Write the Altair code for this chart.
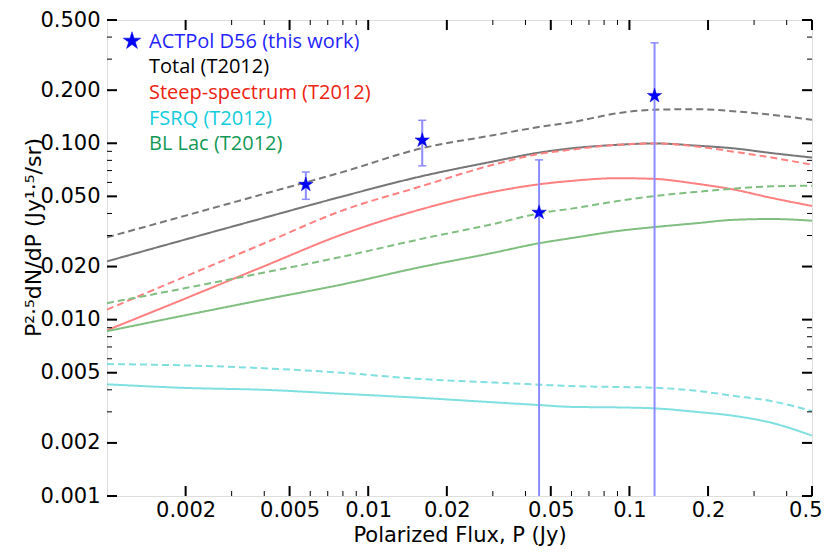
import altair as alt
import pandas as pd

# ---------------- data ----------------
x_model = [0.001, 0.002, 0.004, 0.0079, 0.016, 0.03, 0.045, 0.06, 0.09, 0.125, 0.18, 0.25, 0.35, 0.5]

total_dash = [0.0293, 0.0389, 0.0517, 0.0684, 0.0936, 0.111, 0.1237, 0.1315, 0.148, 0.155, 0.156, 0.152, 0.145, 0.136]
total_solid = [0.0214, 0.0285, 0.0378, 0.0498, 0.065, 0.0788, 0.0885, 0.0936, 0.098, 0.0998, 0.097, 0.0936, 0.088, 0.083]
steep_dash = [0.0114, 0.0176, 0.0271, 0.0414, 0.0571, 0.0755, 0.087, 0.092, 0.098, 0.0998, 0.096, 0.0896, 0.083, 0.0755]
steep_solid = [0.0087, 0.0132, 0.0201, 0.0303, 0.0423, 0.0530, 0.0585, 0.0612, 0.0634, 0.0628, 0.059, 0.0547, 0.049, 0.0441]
bllac_dash = [0.0124, 0.0151, 0.0185, 0.0227, 0.0287, 0.0348, 0.0400, 0.0426, 0.047, 0.0502, 0.053, 0.0553, 0.057, 0.0575]
bllac_solid = [0.0086, 0.0106, 0.0130, 0.0158, 0.0199, 0.0239, 0.0271, 0.029, 0.0318, 0.0335, 0.0352, 0.0368, 0.0372, 0.0364]
fsrq_dash = [0.0056, 0.0055, 0.0053, 0.0050, 0.0046, 0.0044, 0.00428, 0.0042, 0.00415, 0.00411, 0.00395, 0.0037, 0.00345, 0.00303]
fsrq_solid = [0.0043, 0.0041, 0.0040, 0.0038, 0.0036, 0.0034, 0.00328, 0.0032, 0.00318, 0.00314, 0.0030, 0.00285, 0.0026, 0.0022]

act_P = [0.00577, 0.0161, 0.0451, 0.1248]
act_S = [0.0583, 0.104, 0.0405, 0.186]
act_hi = [0.0687, 0.135, 0.0805, 0.371]
act_lo = [0.0481, 0.0745, 0.0001, 0.0001]

x_major = [0.002, 0.005, 0.01, 0.02, 0.05, 0.1, 0.2, 0.5]
x_minor = [0.003, 0.004, 0.006, 0.007, 0.008, 0.009, 0.03, 0.04, 0.06, 0.07, 0.08, 0.09, 0.3, 0.4]
y_major = [0.001, 0.002, 0.005, 0.01, 0.02, 0.05, 0.1, 0.2, 0.5]
y_minor = [0.003, 0.004, 0.006, 0.007, 0.008, 0.009, 0.03, 0.04, 0.06, 0.07, 0.08, 0.09, 0.3, 0.4]

legend_labels = ["ACTPol D56 (this work)", "Total (T2012)", "Steep-spectrum (T2012)", "FSRQ (T2012)", "BL Lac (T2012)"]
legend_colors = ["#1f1fff", "#000000", "#ee2211", "#11ccdd", "#119955"]

series_names = ["Total", "Steep", "FSRQ", "BLLac"]
series_colors = ["#777777", "#ff8080", "#80dfdf", "#80bf80"]

# ---------------- tables ----------------
rows = []
for name, style, vals in [
    ("Total", "dashed", total_dash), ("Total", "solid", total_solid),
    ("Steep", "dashed", steep_dash), ("Steep", "solid", steep_solid),
    ("BLLac", "dashed", bllac_dash), ("BLLac", "solid", bllac_solid),
    ("FSRQ", "dashed", fsrq_dash), ("FSRQ", "solid", fsrq_solid),
]:
    for xv, yv in zip(x_model, vals):
        rows.append({"P": xv, "S": yv, "name": name, "style": style, "key": name + style})
df_lines = pd.DataFrame(rows)
df_pts = pd.DataFrame({"P": act_P, "S": act_S, "hi": act_hi, "lo": act_lo})

W, H = 705, 476
xs = alt.Scale(type="log", domain=[0.001, 0.5], nice=False)
ys = alt.Scale(type="log", domain=[0.001, 0.5], nice=False)

STAR = "M0,-1L0.2245,-0.309L0.951,-0.309L0.363,0.118L0.588,0.809L0,0.382L-0.588,0.809L-0.363,0.118L-0.951,-0.309L-0.2245,-0.309Z"

xaxis = alt.Axis(values=x_major, format="~g", ticks=False, domain=False, grid=False,
                 labelFont="DejaVu Sans", labelFontSize=21, labelColor="black",
                 labelBaseline="middle", labelPadding=14,
                 labelFlush=1, labelFlushOffset=10, labelOverlap=False,
                 title="Polarized Flux, P (Jy)", titleFont="DejaVu Sans", titleFontSize=21,
                 titleFontWeight="normal", titleColor="black", titleY=45, titleBaseline="alphabetic")
yaxis = alt.Axis(values=y_major, format=".3f", ticks=False, domain=False, grid=False,
                 labelFont="DejaVu Sans", labelFontSize=21, labelColor="black", labelPadding=7,
                 labelFlush=False, labelOverlap=False,
                 title="P²·⁵dN/dP (Jy¹·⁵/sr)", titleFont="DejaVu Sans", titleFontSize=22,
                 titleFontWeight="normal", titleColor="black", titleX=-74, titleY=217,
                 titleAngle=270, titleBaseline="middle", titleAlign="center")

lines = alt.Chart(df_lines).mark_line(strokeWidth=2, interpolate="monotone", clip=True).encode(
    x=alt.X("P:Q", scale=xs, axis=xaxis),
    y=alt.Y("S:Q", scale=ys, axis=yaxis),
    color=alt.Color("name:N", scale=alt.Scale(domain=series_names, range=series_colors), legend=None),
    strokeDash=alt.StrokeDash("style:N", scale=alt.Scale(domain=["solid", "dashed"], range=[[1, 0], [7, 4]]), legend=None),
    detail="key:N",
)

err = alt.Chart(df_pts).mark_rule(color="#8c8cff", strokeWidth=2, clip=True).encode(
    x=alt.X("P:Q", scale=xs), y=alt.Y("lo:Q", scale=ys), y2="hi:Q")
cap_hi = alt.Chart(df_pts).mark_rule(color="#8c8cff", strokeWidth=1.5, clip=True, xOffset=-4, x2Offset=4).encode(
    x=alt.X("P:Q", scale=xs), x2="P:Q", y=alt.Y("hi:Q", scale=ys))
cap_lo = alt.Chart(df_pts).mark_rule(color="#8c8cff", strokeWidth=1.5, clip=True, xOffset=-4, x2Offset=4).encode(
    x=alt.X("P:Q", scale=xs), x2="P:Q", y=alt.Y("lo:Q", scale=ys))
stars = alt.Chart(df_pts).mark_point(shape=STAR, filled=True, size=230, color="#0000ff", opacity=1,
                                     stroke="#0000cc", strokeWidth=0.5).encode(
    x=alt.X("P:Q", scale=xs), y=alt.Y("S:Q", scale=ys))


def tick_layer(vals, axis_ch, side, length, width):
    d = pd.DataFrame({"v": vals})
    base = alt.Chart(d).mark_rule(color="black", strokeWidth=width)
    if axis_ch == "x":
        if side == "bottom":
            return base.encode(x=alt.X("v:Q", scale=xs), y=alt.value(H), y2=alt.value(H - length))
        return base.encode(x=alt.X("v:Q", scale=xs), y=alt.value(0), y2=alt.value(length))
    if side == "left":
        return base.encode(y=alt.Y("v:Q", scale=ys), x=alt.value(0), x2=alt.value(length))
    return base.encode(y=alt.Y("v:Q", scale=ys), x=alt.value(W), x2=alt.value(W - length))


ticks = [
    tick_layer(x_major, "x", "bottom", 10, 2), tick_layer(x_minor, "x", "bottom", 5, 1),
    tick_layer(x_major, "x", "top", 10, 2), tick_layer(x_minor, "x", "top", 5, 1),
    tick_layer(y_major, "y", "left", 10, 2), tick_layer(y_minor, "y", "left", 5, 1),
    tick_layer(y_major, "y", "right", 10, 2), tick_layer(y_minor, "y", "right", 5, 1),
]

df_leg = pd.DataFrame({"label": legend_labels, "col": legend_colors, "i": list(range(len(legend_labels)))})
leg_text = alt.Chart(df_leg).mark_text(align="left", baseline="middle", font="Open Sans", fontSize=20).transform_calculate(
    py="21.7 + datum.i * 25.6"
).encode(
    x=alt.value(42),
    y=alt.Y("py:Q", scale=None),
    text="label:N",
    color=alt.Color("col:N", scale=None, legend=None),
)
leg_star = alt.Chart(pd.DataFrame({"a": [0]})).mark_point(shape=STAR, filled=True, size=340, color="#0000ff",
                                                          opacity=1, stroke="#0000cc", strokeWidth=0.5).encode(
    x=alt.value(25), y=alt.value(21))

chart = alt.layer(lines, err, cap_hi, cap_lo, stars, *ticks, leg_text, leg_star).properties(
    width=W, height=H,
    autosize=alt.AutoSizeParams(type="none"),
    padding={"left": 99, "top": 12, "right": 10, "bottom": 51},
).configure_view(stroke="black", strokeWidth=1.5).configure(background="white")

chart.save("out.html", embed_options={"renderer": "svg", "actions": False})
